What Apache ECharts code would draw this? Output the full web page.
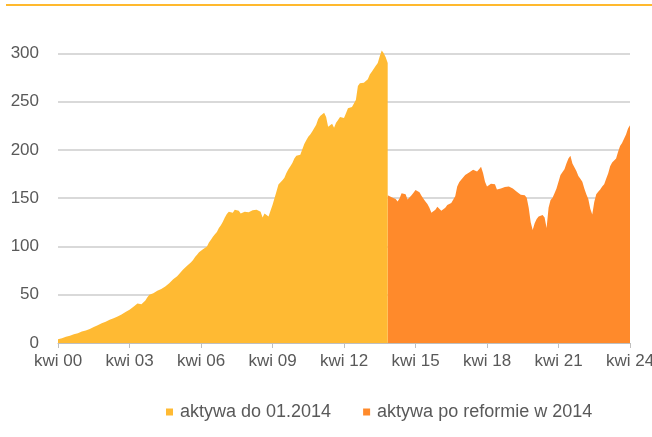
<!DOCTYPE html>
<html><head><meta charset="utf-8">
<script src="https://cdn.jsdelivr.net/npm/echarts@6/dist/echarts.min.js"></script>
<style>html,body{margin:0;padding:0;background:#fff}#c{width:652px;height:437px}</style>
</head><body><div id="c"></div>
<script>
// month categories Apr 2000 .. Apr 2024
const monthNames = ['sty','lut','mar','kwi','maj','cze','lip','sie','wrz','paź','lis','gru'];
const categories = [];
for (let y = 2000, m = 3; y < 2024 || (y === 2024 && m <= 3); ) {
  categories.push(monthNames[m] + ' ' + String(y % 100).padStart(2, '0'));
  m++; if (m === 12) { m = 0; y++; }
}
const seriesNames = ['aktywa do 01.2014', 'aktywa po reformie w 2014'];
// assets up to 01.2014 (index 0..166)
const oldAssets = [
 4,4.5,5,5.5,6.5,7,7.5,8,9,9.5,10,11,12,12.5,13,14,14.5,15.5,16.5,17.5,
 18.5,19.5,20.5,21.5,22,23,24,24.5,25.5,26.5,27.5,28.5,29.5,30.5,32,33,34.5,36,37.5,39,
 41,40.5,40,41,44,47.5,50,50.5,51.5,52.5,54,55,56,57,58.5,60,62,64,66,67.5,
 69,71.5,73.5,76,78,80,81.5,83.5,86,89,91.5,94,96,97,98.5,100,104,107,110,112.5,
 115,119,122,125.5,130,133.5,136,137,135,138,139.5,137,134,135,136,136.5,135.5,137,137.5,136,
 138,138.5,136,130,134,136,131,137,143,150,157,164,166,168.5,171,176,180,183,186.5,191,
 194,194.5,195,197,206,210,213.5,216,219,221,226,232,235,237,238.5,234,224,226,227,223,
 228,231,234,236,233,238,243,243.5,244.5,248,252,266,269,268.5,269.5,271,273,278,281,282,
 287,290,297,303,300,296,290
];
// assets after 2014 reform (index 166..288)
const newAssets = [
 153,152,151,151.5,149,146.5,150,155,157,154,148.5,150,153,155.5,158.5,159,156,152.5,149.5,146.5,
 144,140,135,133,138,141,139.5,137,135,140,143,143.5,145,147,152,162,166.5,169,171,174,
 175,176.5,178,179.5,178,177.5,180,182.5,176,167,162,161,165,164,164.5,159,157,160,160.5,161.5,
 161.7,162,161,160,158,156.5,154.5,153.5,153,153,150.5,140,125,117,124,128.5,131,132,132.5,130,
 119,140,148,150.5,155,160,167,174,176,180,186,191,194,186,182,178,173,170,167,160,
 154,149,139,133,146,154,156.5,159,162,164.5,170,175.5,183,187,185,191,198,204,207,209,
 216,222,225.5
];
const yTicks = {min: 0, max: 350, interval: 50};

const s1 = categories.map((c, i) => i < oldAssets.length ? oldAssets[i] : null);
const startNew = categories.length - newAssets.length;
const s2 = categories.map((c, i) => i >= startNew ? newAssets[i - startNew] : null);

const txt = '#595959';
const font = 'Liberation Sans';
const chart = echarts.init(document.getElementById('c'), null, {renderer: 'canvas'});
chart.setOption({
  animation: false,
  textStyle: {fontFamily: font},
  grid: {left: 58, right: 22, top: 5, bottom: 94, containLabel: false, outerBoundsMode: 'none'},
  legend: {
    data: seriesNames, top: 398, left: 161, icon: 'rect',
    itemWidth: 7, itemHeight: 7, itemGap: 32,
    textStyle: {color: txt, fontSize: 18, fontFamily: font, padding: [0, 0, 0, 2]}
  },
  xAxis: {
    type: 'category', data: categories, boundaryGap: false,
    axisLine: {lineStyle: {color: '#BFBFBF', width: 1}},
    axisTick: {show: true, length: 5, interval: (i) => i % 36 === 0, lineStyle: {color: '#BFBFBF'}},
    axisLabel: {interval: (i) => i % 36 === 0, color: txt, fontSize: 17, margin: 10, fontFamily: font, showMaxLabel: true},
    splitLine: {show: false}
  },
  yAxis: {
    type: 'value', min: yTicks.min, max: yTicks.max, interval: yTicks.interval,
    axisLine: {show: false}, axisTick: {show: false},
    axisLabel: {color: txt, fontSize: 17, margin: 19, fontFamily: font, showMaxLabel: false},
    splitLine: {lineStyle: {color: '#D9D9D9', width: 2}, showMaxLine: false}
  },
  series: [
    {name: seriesNames[1], type: 'line', data: s2, symbol: 'none', z: 2,
     lineStyle: {width: 0}, itemStyle: {color: '#FF8A2B'}, areaStyle: {color: '#FF8A2B', opacity: 1}},
    {name: seriesNames[0], type: 'line', data: s1, symbol: 'none', z: 3,
     lineStyle: {width: 0}, itemStyle: {color: '#FFBA33'}, areaStyle: {color: '#FFBA33', opacity: 1}}
  ],
  graphic: [{type: 'rect', shape: {x: 6, y: 4, width: 646, height: 2}, style: {fill: '#FFB92E'}, z: 100}]
});
</script></body></html>
